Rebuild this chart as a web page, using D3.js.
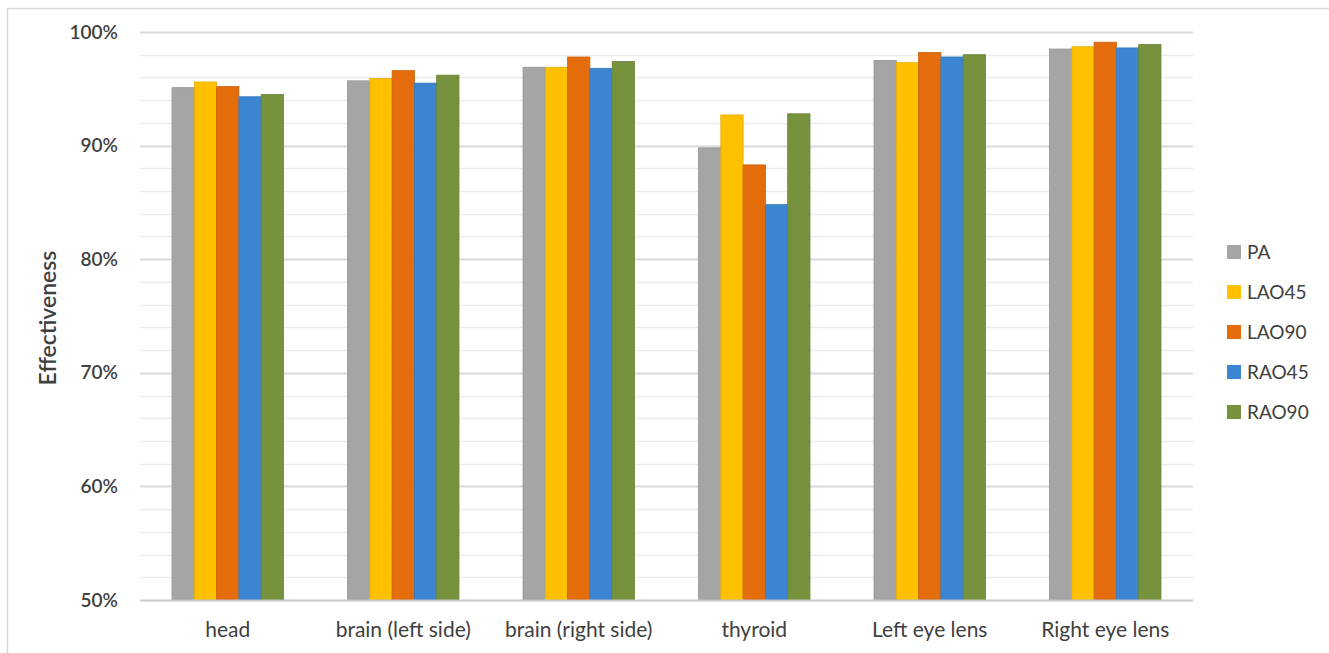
<!DOCTYPE html>
<html>
<head>
<meta charset="utf-8">
<script src="https://cdn.jsdelivr.net/npm/d3@7"></script>
<style>
  html, body { margin: 0; padding: 0; background: #fff; }
  svg { display: block; font-family: Lato, "Open Sans", sans-serif; }
</style>
</head>
<body>
<svg id="chart" width="1329" height="653"></svg>
<script>
// Organ categories along the x axis
const categories = ["head", "brain (left side)", "brain (right side)", "thyroid", "Left eye lens", "Right eye lens"];

// Projection series shown in the legend
const seriesNames = ["PA", "LAO45", "LAO90", "RAO45", "RAO90"];
const seriesColors = ["#A5A5A5", "#FFC000", "#E46C0A", "#3C85D3", "#76923C"];

// Effectiveness (%) per series, one value per category
const PA    = [95.1, 95.7, 96.9, 89.8, 97.5, 98.5];
const LAO45 = [95.6, 95.9, 96.9, 92.7, 97.3, 98.7];
const LAO90 = [95.2, 96.6, 97.8, 88.3, 98.2, 99.1];
const RAO45 = [94.3, 95.5, 96.8, 84.8, 97.8, 98.6];
const RAO90 = [94.5, 96.2, 97.4, 92.8, 98.0, 98.9];
const seriesValues = [PA, LAO45, LAO90, RAO45, RAO90];

// Y axis ticks
const majorTicks = [50, 60, 70, 80, 90, 100];
const minorTicks = [52, 54, 56, 58, 62, 64, 66, 68, 72, 74, 76, 78, 82, 84, 86, 88, 92, 94, 96, 98];

const svg = d3.select("#chart");
const plot = { left: 140, right: 1193, top: 32, bottom: 600 };

// Outer chart frame
svg.append("rect")
  .attr("x", 7.5).attr("y", 8.5)
  .attr("width", 1340).attr("height", 660)
  .attr("fill", "none").attr("stroke", "#d9d9d9").attr("stroke-width", 1.5);

const x0 = d3.scaleBand().domain(categories).range([plot.left, plot.right]).paddingInner(0).paddingOuter(0);
const groupWidth = x0.bandwidth() * 0.635;
const x1 = d3.scaleBand().domain(seriesNames).range([0, groupWidth]).padding(0);
const y = d3.scaleLinear().domain([50, 100]).range([plot.bottom, plot.top]);

// Minor gridlines
svg.append("g").selectAll("line").data(minorTicks).join("line")
  .attr("x1", plot.left).attr("x2", plot.right)
  .attr("y1", d => Math.round(y(d)) + 0.5).attr("y2", d => Math.round(y(d)) + 0.5)
  .attr("stroke", "#ececec").attr("stroke-width", 1.5);

// Major gridlines
svg.append("g").selectAll("line").data(majorTicks.filter(d => d > 50)).join("line")
  .attr("x1", plot.left).attr("x2", plot.right)
  .attr("y1", d => Math.round(y(d)) + 0.5).attr("y2", d => Math.round(y(d)) + 0.5)
  .attr("stroke", "#d9d9d9").attr("stroke-width", 2);

// Y axis labels
const yAxis = d3.axisLeft(y).tickValues(majorTicks).tickFormat(d => d + "%").tickSize(0).tickPadding(0);
const yg = svg.append("g").attr("transform", `translate(${118},0)`).call(yAxis);
yg.select(".domain").remove();
yg.selectAll("text")
  .attr("fill", "#404040").attr("font-size", 19).attr("font-weight", 600)
  .attr("font-family", "Lato, 'Open Sans', sans-serif");

// Bars
const groups = svg.append("g").selectAll("g").data(categories).join("g")
  .attr("transform", d => `translate(${x0(d) + (x0.bandwidth() - groupWidth) / 2},0)`);

groups.selectAll("rect")
  .data((c, i) => seriesNames.map((s, k) => ({ s, k, v: seriesValues[k][i] })))
  .join("rect")
  .attr("x", d => x1(d.s))
  .attr("width", x1.bandwidth())
  .attr("y", d => y(d.v))
  .attr("height", d => y(50) - y(d.v))
  .attr("fill", d => seriesColors[d.k])
  .attr("stroke", d => d3.color(seriesColors[d.k]).darker(0.3))
  .attr("stroke-width", 0.8);

// Category axis line
svg.append("line")
  .attr("x1", plot.left).attr("x2", plot.right)
  .attr("y1", plot.bottom + 0.5).attr("y2", plot.bottom + 0.5)
  .attr("stroke", "#c8c8c8").attr("stroke-width", 2);

// X axis labels
const xAxis = d3.axisBottom(x0).tickSize(0).tickPadding(0);
const xg = svg.append("g").attr("transform", `translate(0,${plot.bottom + 37})`).call(xAxis);
xg.select(".domain").remove();
xg.selectAll("text")
  .attr("dy", 0)
  .attr("fill", "#404040").attr("font-size", 21)
  .attr("font-family", "Lato, 'Open Sans', sans-serif");

// Y axis title
svg.append("text")
  .attr("transform", `translate(56,${(plot.top + plot.bottom) / 2 + 2}) rotate(-90)`)
  .attr("text-anchor", "middle")
  .attr("fill", "#404040").attr("font-size", 23).attr("font-weight", 600)
  .text("Effectiveness");

// Legend
const legend = svg.append("g").attr("transform", "translate(1227,252)");
const items = legend.selectAll("g").data(seriesNames).join("g")
  .attr("transform", (d, i) => `translate(0,${i * 40})`);
items.append("rect")
  .attr("x", 0).attr("y", -7).attr("width", 14).attr("height", 14)
  .attr("fill", (d, i) => seriesColors[i]);
items.append("text")
  .attr("x", 20).attr("y", 0).attr("dy", "0.35em")
  .attr("fill", "#404040").attr("font-size", 19)
  .text(d => d);
</script>
</body>
</html>
